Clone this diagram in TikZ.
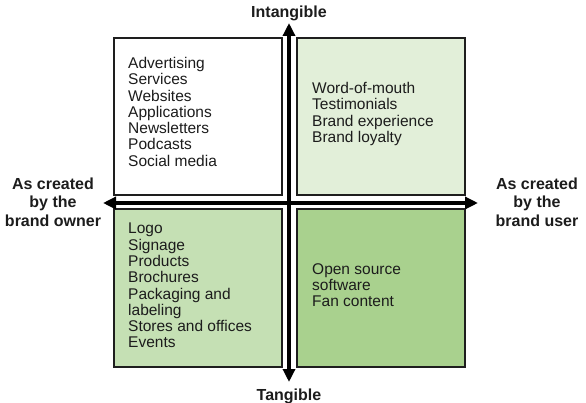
\documentclass[tikz,border=0pt]{standalone}
\usepackage{fontspec}
\setmainfont{Liberation Sans}
\usepackage{xcolor}
\usepackage{tikz}
\usetikzlibrary{arrows.meta,positioning}
\definecolor{edgegray}{RGB}{30,30,30}
\definecolor{inkgray}{RGB}{28,28,28}
\definecolor{palegreen}{HTML}{E2EFD9}
\definecolor{midgreen}{HTML}{C5E0B4}
\definecolor{deepgreen}{HTML}{A9D18E}

\begin{document}
\begin{tikzpicture}[x=1pt,y=-1pt,
  quad/.style={draw=edgegray,line width=2pt,minimum width=168pt,minimum height=157pt,inner sep=0pt},
  items/.style={anchor=north west,align=left,inner sep=0pt,text=inkgray,font=\fontsize{15.5}{16.3}\selectfont},
  axlabel/.style={align=center,inner sep=0pt,text=inkgray,font=\bfseries\fontsize{16}{18.5}\selectfont},
  axis/.style={{Triangle[length=13pt,width=12pt]}-{Triangle[length=13pt,width=12pt]},line width=4.5pt,black}]
\useasboundingbox (0,0) rectangle (586,403);
\clip (0,0) rectangle (586,403);
% quadrants
\node[quad,fill=white] (owneri) at (198,117) {};
\node[quad,fill=palegreen] (useri) at (380.5,117) {};
\node[quad,fill=midgreen] (ownert) at (198,288) {};
\node[quad,fill=deepgreen] (usert) at (380.5,288) {};
\node[items] (owneritxt) at (128,57) {Advertising\\Services\\Websites\\Applications\\Newsletters\\Podcasts\\Social media};
\node[items] (useritxt) at (312,82) {Word-of-mouth\\Testimonials\\Brand experience\\Brand loyalty};
\node[items] (ownerttxt) at (128,223) {Logo\\Signage\\Products\\Brochures\\Packaging and\\labeling\\Stores and offices\\Events};
\node[items] (userttxt) at (312,263) {Open source\\software\\Fan content};
% axes
\coordinate (top) at (289,23);
\coordinate (bottom) at (289,382);
\coordinate (left) at (103,203);
\coordinate (right) at (478,203);
\draw[axis] (bottom) -- (top);
\draw[axis] (left) -- (right);
\node[axlabel,anchor=base] (intang) at (289,18) {Intangible};
\node[axlabel,anchor=base] (tang) at (289,400) {Tangible};
\node[axlabel] (owner) at (53,202) {As created\\by the\\brand owner};
\node[axlabel] (user) at (537,202) {As created\\by the\\brand user};
\end{tikzpicture}
\end{document}
